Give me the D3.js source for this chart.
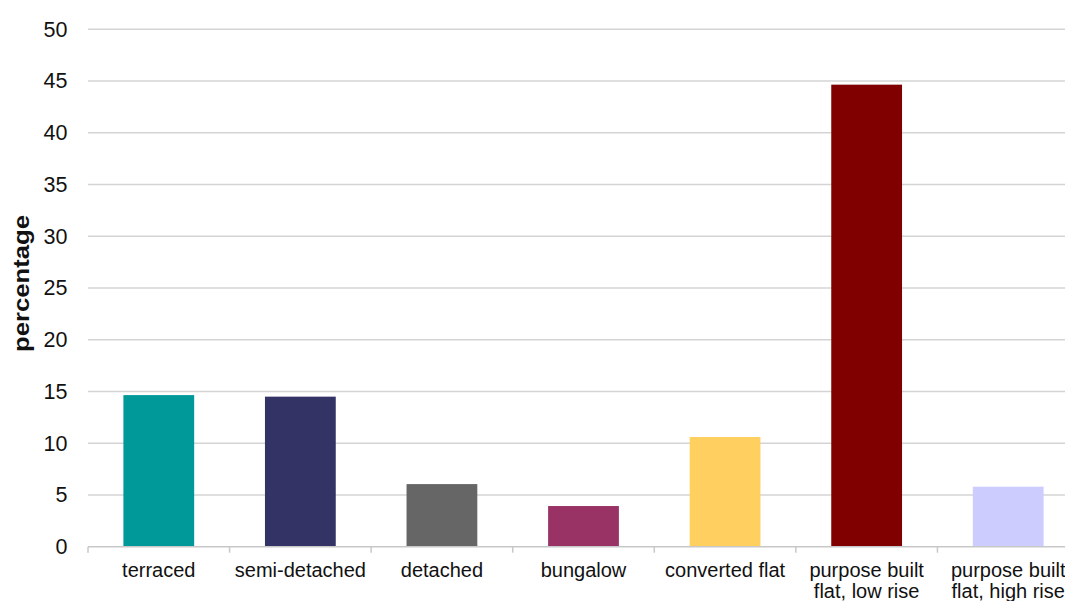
<!DOCTYPE html>
<html><head><meta charset="utf-8">
<script src="https://cdn.jsdelivr.net/npm/d3@7"></script>
<style>body{margin:0;background:#fff}svg{display:block}</style>
</head><body>
<svg id="c" width="1065" height="601"></svg>
<script>
const categories = [["terraced"],["semi-detached"],["detached"],["bungalow"],["converted flat"],["purpose built","flat, low rise"],["purpose built","flat, high rise"]];
const values = [14.65, 14.5, 6.05, 3.93, 10.6, 44.65, 5.8];
const colors = ["#009999","#333366","#666666","#993366","#FFD05F","#800000","#CCCCFF"];
const yTicks = [0,5,10,15,20,25,30,35,40,45,50];
const yLabel = "percentage";

(function(){
const svg = d3.select("#c");
const pL = 88, pR = 1079, pT = 29.3, pB = 546.7;
const x = d3.scaleBand().domain(d3.range(categories.length)).range([pL, pR]).paddingInner(0.5).paddingOuter(0.25);
const y = d3.scaleLinear().domain([0,50]).range([pB, pT]);

// gridlines
svg.append("g").selectAll("line").data(yTicks.filter(d=>d>0)).join("line")
  .attr("x1", pL).attr("x2", pR).attr("y1", d=>y(d)).attr("y2", d=>y(d))
  .attr("stroke", "#d4d4d4").attr("stroke-width", 1.5);

// bars
svg.append("g").selectAll("rect").data(values).join("rect")
  .attr("x", (d,i)=>x(i)).attr("width", x.bandwidth())
  .attr("y", d=>y(d)).attr("height", d=>y(0)-y(d))
  .attr("fill", (d,i)=>colors[i]);

// y axis labels
const ya = d3.axisLeft(y).tickValues(yTicks).tickSize(0).tickPadding(0);
const yg = svg.append("g").attr("transform", `translate(67.5,0)`).call(ya);
yg.select(".domain").remove();
yg.selectAll("text").attr("font-family","Liberation Sans, Arial, sans-serif").attr("font-size",21.5).attr("fill","#111");

// x axis line and ticks
const xa = svg.append("g");
xa.append("line").attr("x1", pL).attr("x2", pR).attr("y1", pB).attr("y2", pB).attr("stroke","#c8c8c8").attr("stroke-width",1.5);
const step = x.step();
const bounds = d3.range(categories.length+1).map(i => pL + i*step);
xa.selectAll("line.t").data(bounds).join("line").attr("class","t")
  .attr("x1", d=>d).attr("x2", d=>d).attr("y1", pB).attr("y2", pB+6)
  .attr("stroke","#c8c8c8").attr("stroke-width",1.5);
const lbl = xa.selectAll("text").data(categories).join("text")
  .attr("text-anchor","middle").attr("font-family","Liberation Sans, Arial, sans-serif")
  .attr("font-size",20).attr("fill","#111")
  .attr("transform",(d,i)=>`translate(${x(i)+x.bandwidth()/2},577)`);
lbl.selectAll("tspan").data(d=>d).join("tspan").attr("x",0).attr("dy",(d,j)=>j?21:0).text(d=>d);

// y label
svg.append("text").attr("transform","translate(28.5,283.5) rotate(-90)")
  .attr("text-anchor","middle").attr("font-family","Liberation Sans, Arial, sans-serif")
  .attr("font-size",22).attr("font-weight","bold").attr("fill","#111")
  .attr("textLength",137).attr("lengthAdjust","spacingAndGlyphs").text(yLabel);
})();
</script>
</body></html>
